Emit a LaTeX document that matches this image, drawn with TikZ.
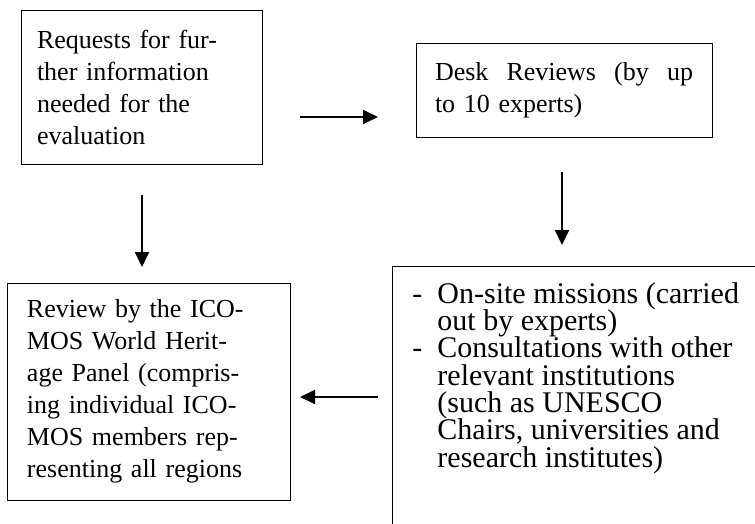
\documentclass[tikz,border=0pt]{standalone}
\usepackage{fontspec}
\setmainfont{Liberation Serif}
\usetikzlibrary{arrows.meta}

\begin{document}
\begin{tikzpicture}
    [x=1pt,y=-1pt,
      stepbox/.style={draw,line width=0.9pt,align=left,inner xsep=16pt,
        font=\fontsize{26}{32}\selectfont},
      flow/.style={line width=2pt,-{Triangle[length=15pt,width=14pt]}}
    ]
    \useasboundingbox (0,0) rectangle (755,524);
    \clip (0,0) rectangle (755,524);

    \node [stepbox,minimum width=241pt,minimum height=154pt,text width=209pt]
      (requests) at (141.5,87)
      {Requests for fur-\\ther information\\needed for the\\evaluation};
    \node [stepbox,minimum width=296pt,minimum height=94pt,text width=258pt,
      inner xsep=19pt] (desk) at (564,90)
      {Desk\hfill Reviews\hfill (by\hfill up\\to 10 experts)};
    \node [stepbox,minimum width=283pt,minimum height=217pt,text width=243pt,
      inner xsep=20pt] (panel) at (148.5,391.5)
      {Review by the ICO-\\MOS World Herit-\\age Panel (compris-\\ing individual ICO-\\MOS members rep-\\resenting all regions};
    \node [stepbox,anchor=north west,inner xsep=20pt,inner ysep=16pt,
      font=\fontsize{30}{27.3}\selectfont] (missions) at (392,266)
      {\parbox[t][300pt][t]{400pt}{\raggedright
        \makebox[25pt][l]{-}On-site missions (carried\\
        \hspace*{25pt}out by experts)\\
        \makebox[25pt][l]{-}Consultations with other\\
        \hspace*{25pt}relevant institutions\\
        \hspace*{25pt}(such as UNESCO\\
        \hspace*{25pt}Chairs, universities and\\
        \hspace*{25pt}research institutes)}};

    \coordinate (toDeskS) at (300,117);
    \coordinate (toDeskE) at (378,117);
    \coordinate (toPanelS) at (142,195);
    \coordinate (toPanelE) at (142,267);
    \coordinate (toMissS) at (562,172);
    \coordinate (toMissE) at (562,245);
    \coordinate (backS) at (378,397);
    \coordinate (backE) at (300,397);

    \draw [flow] (toDeskS) -- (toDeskE);
    \draw [flow] (toPanelS) -- (toPanelE);
    \draw [flow] (toMissS) -- (toMissE);
    \draw [flow] (backS) -- (backE);
  \end{tikzpicture}
\end{document}
